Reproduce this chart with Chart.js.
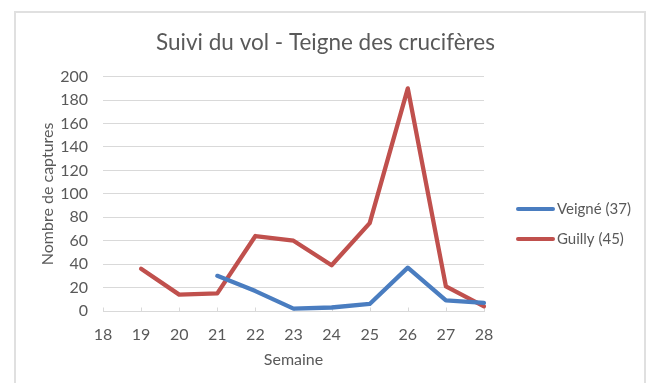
<!DOCTYPE html>
<html>
<head>
<meta charset="utf-8">
<script src="https://cdn.jsdelivr.net/npm/chart.js@4/dist/chart.umd.min.js"></script>
<style>
  html, body { margin: 0; padding: 0; background: #ffffff; }
  #wrap { position: relative; width: 651px; height: 383px; overflow: hidden; }
  #frame { position: absolute; left: 14px; top: 11px; width: 632px; height: 400px;
           border: 2px solid #e0e0e0; box-sizing: border-box; }
  canvas { position: absolute; left: 0; top: 0; }
</style>
</head>
<body>
<div id="wrap">
  <div id="frame"></div>
  <canvas id="c" width="651" height="383"></canvas>
</div>
<script>
// Semaines de piégeage
const weeks = [18, 19, 20, 21, 22, 23, 24, 25, 26, 27, 28];
// Captures hebdomadaires par site (null = pas de relevé)
const veigne = [null, null, null, 30, 17, 2, 3, 6, 37, 9, 7];
const guilly = [null, 36, 14, 15, 64, 60, 39, 75, 190, 21, 4];
const seriesNames = ['Veigné (37)', 'Guilly (45)'];
const seriesColors = ['#4a7dc0', '#c0504d'];
const yTicks = [0, 20, 40, 60, 80, 100, 120, 140, 160, 180, 200];

const textColor = '#595959';
const gridColor = '#d9d9d9';
const fontFamily = 'Lato, "Open Sans", sans-serif';

// Petites graduations de l'axe des semaines, tournées vers l'intérieur
const innerTicks = {
  id: 'innerTicks',
  beforeDatasetsDraw(chart) {
    const ctx = chart.ctx;
    const xs = chart.scales.x;
    const y = Math.round(xs.top) + 0.5;
    ctx.save();
    ctx.strokeStyle = gridColor;
    ctx.lineWidth = 1;
    ctx.beginPath();
    xs.ticks.forEach((t, i) => {
      const x = Math.round(xs.getPixelForTick(i)) + 0.5;
      ctx.moveTo(x, y);
      ctx.lineTo(x, y - 4);
    });
    ctx.stroke();
    ctx.restore();
  }
};

// Légende à droite, dessinée à la main (trait + libellé)
const sideLegend = {
  id: 'sideLegend',
  afterDraw(chart) {
    const ctx = chart.ctx;
    const x0 = 518, x1 = 553, startY = 209, step = 30;
    ctx.save();
    ctx.font = '15px ' + fontFamily;
    ctx.textBaseline = 'middle';
    ctx.textAlign = 'left';
    chart.data.datasets.forEach((ds, i) => {
      const y = startY + i * step;
      ctx.strokeStyle = ds.borderColor;
      ctx.lineWidth = 4;
      ctx.lineCap = 'round';
      ctx.beginPath();
      ctx.moveTo(x0, y);
      ctx.lineTo(x1, y);
      ctx.stroke();
      ctx.fillStyle = textColor;
      ctx.fillText(ds.label, x1 + 4, y);
    });
    ctx.restore();
  }
};

new Chart(document.getElementById('c'), {
  type: 'line',
  data: {
    labels: weeks,
    datasets: [
      { label: seriesNames[0], data: veigne, borderColor: seriesColors[0], backgroundColor: seriesColors[0] },
      { label: seriesNames[1], data: guilly, borderColor: seriesColors[1], backgroundColor: seriesColors[1] }
    ]
  },
  options: {
    responsive: false,
    animation: false,
    devicePixelRatio: 1,
    layout: { padding: 0 },
    elements: {
      line: { borderWidth: 4.3, tension: 0, borderCapStyle: 'round', borderJoinStyle: 'round' },
      point: { radius: 0, hoverRadius: 0 }
    },
    plugins: {
      legend: { display: false },
      tooltip: { enabled: false },
      title: {
        display: true,
        text: 'Suivi du vol - Teigne des crucifères',
        color: textColor,
        font: { family: fontFamily, size: 22.5, weight: 'normal', lineHeight: 1.2 },
        padding: { top: 29, bottom: 20.7 }
      }
    },
    scales: {
      x: {
        type: 'category',
        offset: false,
        grid: { drawOnChartArea: false, drawTicks: false, color: gridColor },
        border: { display: true, color: gridColor, width: 1 },
        ticks: { color: textColor, font: { family: fontFamily, size: 16 }, padding: 14, maxRotation: 0, autoSkip: false },
        title: {
          display: true, text: 'Semaine', color: textColor,
          font: { family: fontFamily, size: 16 }, padding: { top: 0, bottom: 14 }
        },
        afterFit(scale) { scale.height = 72; }
      },
      y: {
        min: 0, max: 200,
        afterBuildTicks(scale) { scale.ticks = yTicks.map(v => ({ value: v })); },
        grid: { color: gridColor, drawTicks: false },
        border: { display: false },
        ticks: { color: textColor, font: { family: fontFamily, size: 16 }, padding: 15 },
        title: {
          display: true, text: 'Nombre de captures', color: textColor,
          font: { family: fontFamily, size: 16 }, padding: { top: 38, bottom: 0 }
        },
        afterFit(scale) { scale.width = 103; }
      },
      // Axe vide à droite : réserve la place de la légende
      side: {
        position: 'right',
        display: true,
        grid: { display: false },
        border: { display: false },
        ticks: { display: false },
        afterFit(scale) { scale.width = 167; }
      }
    }
  },
  plugins: [innerTicks, sideLegend]
});
</script>
</body>
</html>
